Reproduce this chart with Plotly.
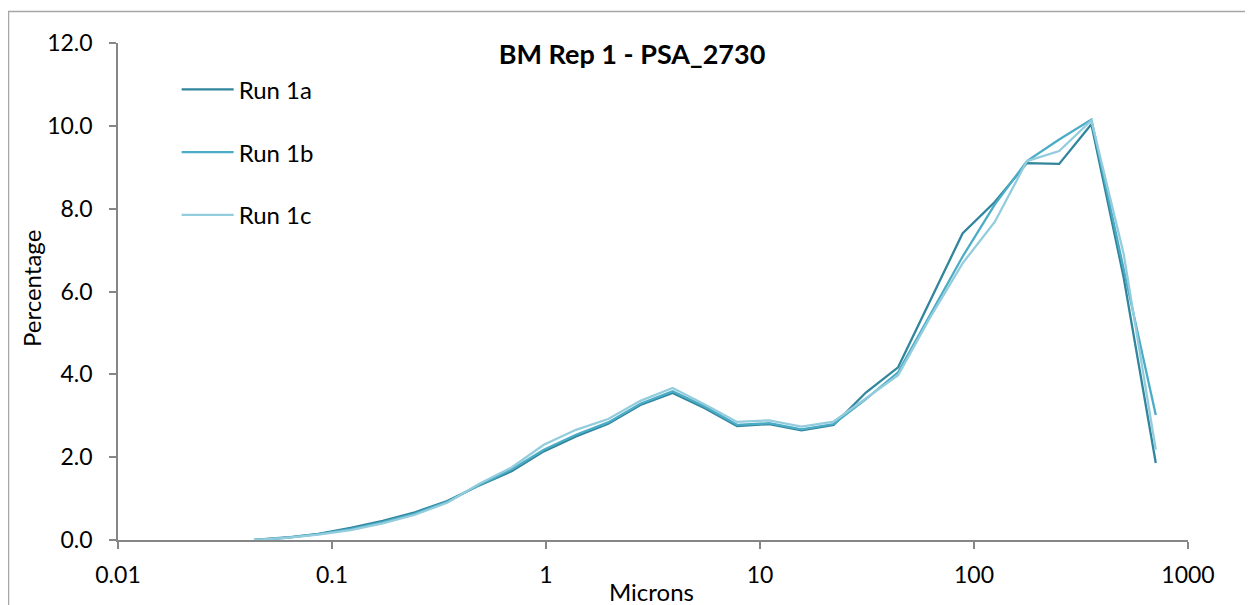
import plotly.graph_objects as go

# Particle sizes (microns), sqrt(2) series
sizes = [0.0432, 0.0610, 0.0863, 0.1221, 0.1726, 0.2441, 0.3453, 0.4883, 0.6905,
         0.9766, 1.381, 1.953, 2.762, 3.906, 5.524, 7.813, 11.05, 15.63, 22.10,
         31.25, 44.19, 62.50, 88.39, 125.0, 176.8, 250.0, 353.6, 500.0, 707.1]

run_1a = [0.00, 0.06, 0.15, 0.29, 0.46, 0.67, 0.94, 1.32, 1.66,
          2.14, 2.50, 2.81, 3.26, 3.55, 3.18, 2.75, 2.80, 2.65, 2.78,
          3.56, 4.17, 5.78, 7.40, 8.16, 9.10, 9.08, 10.04, 6.35, 1.86]

run_1b = [0.00, 0.05, 0.14, 0.26, 0.43, 0.64, 0.92, 1.33, 1.70,
          2.18, 2.54, 2.84, 3.29, 3.59, 3.22, 2.78, 2.82, 2.67, 2.80,
          3.40, 4.05, 5.45, 6.84, 8.10, 9.15, 9.67, 10.15, 6.55, 3.02]

run_1c = [0.00, 0.05, 0.13, 0.24, 0.40, 0.61, 0.90, 1.36, 1.75,
          2.30, 2.66, 2.92, 3.36, 3.67, 3.27, 2.85, 2.89, 2.74, 2.86,
          3.43, 3.98, 5.38, 6.68, 7.68, 9.15, 9.39, 10.13, 6.92, 2.18]

series_names = ["Run 1a", "Run 1b", "Run 1c"]
series_colors = ["#31859C", "#4BACC6", "#93CDDD"]

x_tick_vals = [0.01, 0.1, 1, 10, 100, 1000]
x_tick_text = ["0.01", "0.1", "1", "10", "100", "1000"]
y_tick_vals = [0, 2, 4, 6, 8, 10, 12]

FONT = "Lato, 'Open Sans', sans-serif"

# page body has an 8px margin, so the figure is 8px smaller and shifted
W, H = 1245, 597
L, T, PW, PH = 110, 35, 1070, 497

fig = go.Figure()
for name, vals, col in zip(series_names, [run_1a, run_1b, run_1c], series_colors):
    fig.add_trace(go.Scatter(
        x=sizes, y=vals, mode="lines", name=name, legendgroup=name,
        line=dict(color=col, width=2.3),
    ))

fig.update_layout(
    width=W, height=H,
    margin=dict(l=L, r=W - L - PW, t=T, b=H - T - PH),
    paper_bgcolor="white", plot_bgcolor="white",
    font=dict(family=FONT, size=23, color="#000000"),
    title=dict(text="<b>BM Rep 1 - PSA_2730</b>", x=(632 - 8) / W, xanchor="center",
               y=1 - (55 - 8) / H, yanchor="middle", xref="container", yref="container",
               font=dict(family=FONT, size=27, color="#000000")),
    showlegend=True,
    legend=dict(x=0.0548, y=0.951, xanchor="left", yanchor="top",
                bgcolor="rgba(0,0,0,0)", tracegroupgap=28.5, itemwidth=52,
                font=dict(family=FONT, size=24, color="#000000")),
    xaxis=dict(type="log", range=[-2, 3], showgrid=False, zeroline=False,
               showline=True, linecolor="#868686", linewidth=1.5,
               ticks="outside", ticklen=7, tickcolor="#868686", tickwidth=1.5,
               tickvals=x_tick_vals, ticktext=x_tick_text,
               ticklabelstandoff=7,
               tickfont=dict(family=FONT, size=23, color="#000000")),
    yaxis=dict(range=[0, 12], showgrid=False, zeroline=False,
               showline=True, linecolor="#868686", linewidth=1.5,
               ticks="outside", ticklen=7, tickcolor="#868686", tickwidth=1.5,
               tickvals=y_tick_vals, tickformat=".1f",
               ticklabelstandoff=12,
               tickfont=dict(family=FONT, size=23, color="#000000")),
    annotations=[
        dict(text="Microns", xref="paper", yref="paper", x=(651 - 118) / PW,
             y=-(591 - 540) / PH, xanchor="center", yanchor="middle",
             showarrow=False, font=dict(family=FONT, size=24, color="#000000")),
        dict(text="Percentage", xref="paper", yref="paper", x=-(118 - 31) / PW,
             y=(540 - 289) / PH, xanchor="center", yanchor="middle",
             textangle=-90, showarrow=False,
             font=dict(family=FONT, size=24, color="#000000")),
    ],
    shapes=[
        dict(type="rect", xref="paper", yref="paper",
             x0=-(118 - 8.5) / PW, x1=1.2, y0=-0.5, y1=(540 - 11.5) / PH,
             line=dict(color="#A6A6A6", width=1.5), fillcolor="rgba(0,0,0,0)",
             layer="below"),
    ],
)

fig.write_html("out.html")
